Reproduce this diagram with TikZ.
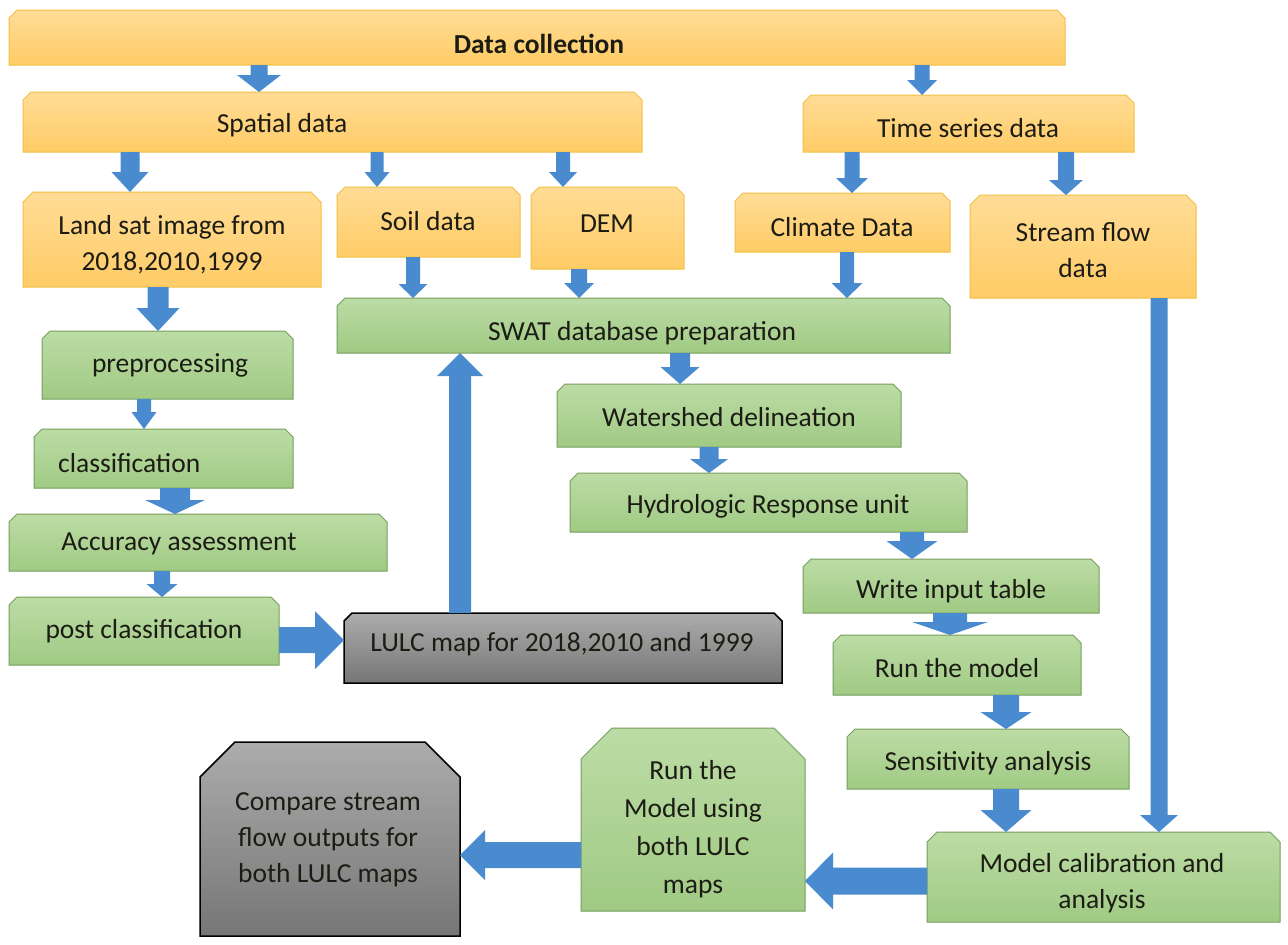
\documentclass[tikz,border=0pt]{standalone}
\usepackage{fontspec}
\setmainfont{Carlito}
\usetikzlibrary{calc}
\definecolor{orT}{RGB}{255,220,150}
\definecolor{orB}{RGB}{255,204,102}
\definecolor{orD}{RGB}{242,192,70}
\definecolor{grT}{RGB}{188,220,165}
\definecolor{grB}{RGB}{160,202,132}
\definecolor{grD}{RGB}{118,158,92}
\definecolor{gyT}{RGB}{172,172,172}
\definecolor{gyB}{RGB}{118,118,118}
\definecolor{arrc}{RGB}{74,139,207}
\definecolor{txtc}{RGB}{28,28,20}
\tikzset{
  boxn/.style={rectangle, inner sep=0pt, outer sep=0pt},
  orangebox/.style={top color=orT, bottom color=orB, draw=orD, line width=1pt},
  greenbox/.style={top color=grT, bottom color=grB, draw=grD, line width=1pt},
  greybox/.style={top color=gyT, bottom color=gyB, draw=black, line width=1.5pt},
  blockarrow/.style={fill=arrc},
  txt/.style={font=\fontsize{27.5}{36}\selectfont, text=txtc, align=center, inner sep=0pt, yshift=-3pt}
}
% name, x1, y1, x2, y2, snip, style
\newcommand\MkBox[7]{%
  \pgfmathsetmacro\bw{#4-#2}\pgfmathsetmacro\bh{#5-#3}%
  \pgfmathsetmacro\bx{(#2+#4)/2}\pgfmathsetmacro\by{(#3+#5)/2}%
  \node[boxn, minimum width=\bw pt, minimum height=\bh pt] (#1) at (\bx,\by) {};
  \path[#7] let \p1=(#1.south west), \p2=(#1.north east) in
    (\x1,\y1) -- (\x1,\y2-#6pt) -- (\x1+#6pt,\y2) -- (\x2-#6pt,\y2) -- (\x2,\y2-#6pt) -- (\x2,\y1) -- cycle;
}
% vertical block arrow: x, from, to, half shaft, half head, head length
\newcommand\ArrV[6]{%
  \fill[blockarrow] let \p1=(#2), \p2=(#3), \n1={ifthenelse(\y2>\y1,1,-1)}, \n2={\y2-\n1*#6} in
    ({#1pt-#4pt},\y1) -- ({#1pt+#4pt},\y1) -- ({#1pt+#4pt},\n2) -- ({#1pt+#5pt},\n2)
    -- ({#1pt},\y2) -- ({#1pt-#5pt},\n2) -- ({#1pt-#4pt},\n2) -- cycle;
}
% horizontal block arrow: y, from, to, half shaft, half head, head length
\newcommand\ArrH[6]{%
  \fill[blockarrow] let \p1=(#2), \p2=(#3), \n1={ifthenelse(\x2>\x1,1,-1)}, \n2={\x2-\n1*#6} in
    (\x1,{-#1pt-#4pt}) -- (\x1,{-#1pt+#4pt}) -- (\n2,{-#1pt+#4pt}) -- (\n2,{-#1pt+#5pt})
    -- (\x2,{-#1pt}) -- (\n2,{-#1pt-#5pt}) -- (\n2,{-#1pt-#4pt}) -- cycle;
}
\begin{document}
\begin{tikzpicture}[x=1pt,y=-1pt]
\fill[white] (0,0) rectangle (1288,945);
\useasboundingbox (0,0) rectangle (1288,945);

% boxes
\MkBox{data}{9}{10}{1065}{65}{8}{orangebox}
\MkBox{spatial}{23}{92}{642}{152}{8}{orangebox}
\MkBox{timeser}{803}{95}{1134}{152}{8}{orangebox}
\MkBox{landsat}{23}{192}{321}{287}{10}{orangebox}
\MkBox{soil}{337}{187}{520}{257}{8}{orangebox}
\MkBox{dem}{531}{187}{684}{269}{8}{orangebox}
\MkBox{climate}{735}{193}{950}{252}{8}{orangebox}
\MkBox{stream}{970}{195}{1196}{298}{10}{orangebox}
\MkBox{swat}{337}{298}{950}{353}{8}{greenbox}
\MkBox{prep}{42}{331}{293}{399}{8}{greenbox}
\MkBox{class}{34}{429}{293}{488}{8}{greenbox}
\MkBox{acc}{9}{514}{387}{571}{8}{greenbox}
\MkBox{post}{9}{597}{279}{665}{8}{greenbox}
\MkBox{lulc}{344}{613}{782}{683}{8}{greybox}
\MkBox{wshed}{557}{384}{901}{447}{8}{greenbox}
\MkBox{hru}{570}{473}{967}{532}{8}{greenbox}
\MkBox{write}{803}{559}{1099}{613}{8}{greenbox}
\MkBox{run}{833}{635}{1081}{695}{8}{greenbox}
\MkBox{sens}{847}{729}{1129}{789}{8}{greenbox}
\MkBox{calib}{927}{832}{1280}{922}{10}{greenbox}
\MkBox{runmodel}{581}{728}{805}{911}{31}{greenbox}
\MkBox{compare}{200}{742}{460}{936}{35}{greybox}

% texts
\node[txt] (data-t) at (539,41) {\bfseries Data collection};
\node[txt] (spatial-t) at (282,122) {Spatial data};
\node[txt] (timeser-t) at (968,125) {Time series data};
\node[txt] (landsat-t) at (172,242) {Land sat image from\\2018,2010,1999};
\node[txt] (soil-t) at (428,218) {Soil data};
\node[txt] (dem-t) at (607,221) {DEM};
\node[txt] (climate-t) at (842,224) {Climate Data};
\node[txt] (stream-t) at (1083,247) {Stream flow\\data};
\node[txt] (swat-t) at (642,330) {SWAT database preparation};
\node[txt] (prep-t) at (170,362) {preprocessing};
\node[txt, anchor=west] (class-t) at (58,460) {classification};
\node[txt] (acc-t) at (179,541) {Accuracy assessment};
\node[txt] (post-t) at (144,628) {post classification};
\node[txt] (lulc-t) at (562,641) {LULC map for 2018,2010 and 1999};
\node[txt] (wshed-t) at (729,414) {Watershed delineation};
\node[txt] (hru-t) at (768,503) {Hydrologic Response unit};
\node[txt] (write-t) at (951,588) {Write input table};
\node[txt] (run-t) at (957,665) {Run the model};
\node[txt] (sens-t) at (988,760) {Sensitivity analysis};
\node[txt] (calib-t) at (1102,880) {Model calibration and\\analysis};
\node[txt, font=\fontsize{27.5}{38}\selectfont] (runmodel-t) at (693,826) {Run the\\Model using\\both LULC\\maps};
\node[txt] (compare-t) at (328,837) {Compare stream\\flow outputs for\\both LULC maps};

% arrows
\ArrV{259}{data.south}{spatial.north}{8.5}{22}{17}
\ArrV{922}{data.south}{timeser.north}{7.5}{15}{15}
\ArrV{130}{spatial.south}{landsat.north}{9.5}{18.5}{20}
\ArrV{377}{spatial.south}{soil.north}{6.5}{12.5}{15}
\ArrV{563}{spatial.south}{dem.north}{7}{14}{15}
\ArrV{852}{timeser.south}{climate.north}{7.5}{16}{15}
\ArrV{1066}{timeser.south}{stream.north}{8}{17}{15}
\ArrV{413}{soil.south}{swat.north}{7}{14.5}{14}
\ArrV{579}{dem.south}{swat.north}{8}{15}{15}
\ArrV{847}{climate.south}{swat.north}{7}{15.5}{15}
\ArrV{1159}{stream.south}{calib.north}{8.5}{19}{17}
\ArrV{158}{landsat.south}{prep.north}{10.5}{21.5}{23}
\ArrV{144}{prep.south}{class.north}{7}{12.5}{17}
\ArrV{175}{class.south}{acc.north}{15}{30}{14}
\ArrV{162}{acc.south}{post.north}{8}{15.5}{13}
\ArrH{640}{post.east}{lulc.west}{13}{29}{29}
\ArrV{460}{lulc.north}{swat.south}{11}{23}{23}
\ArrV{680}{swat.south}{wshed.north}{10}{19.5}{17}
\ArrV{709}{wshed.south}{hru.north}{9.5}{19}{14}
\ArrV{912}{hru.south}{write.north}{12}{25.5}{18}
\ArrV{950}{write.south}{run.north}{17}{38}{13}
\ArrV{1006}{run.south}{sens.north}{13}{25.5}{17}
\ArrV{1006}{sens.south}{calib.north}{13}{25.5}{22}
\ArrH{881}{calib.west}{runmodel.east}{13.5}{28.5}{28}
\ArrH{855}{runmodel.west}{compare.east}{13}{25}{25}
\end{tikzpicture}
\end{document}
